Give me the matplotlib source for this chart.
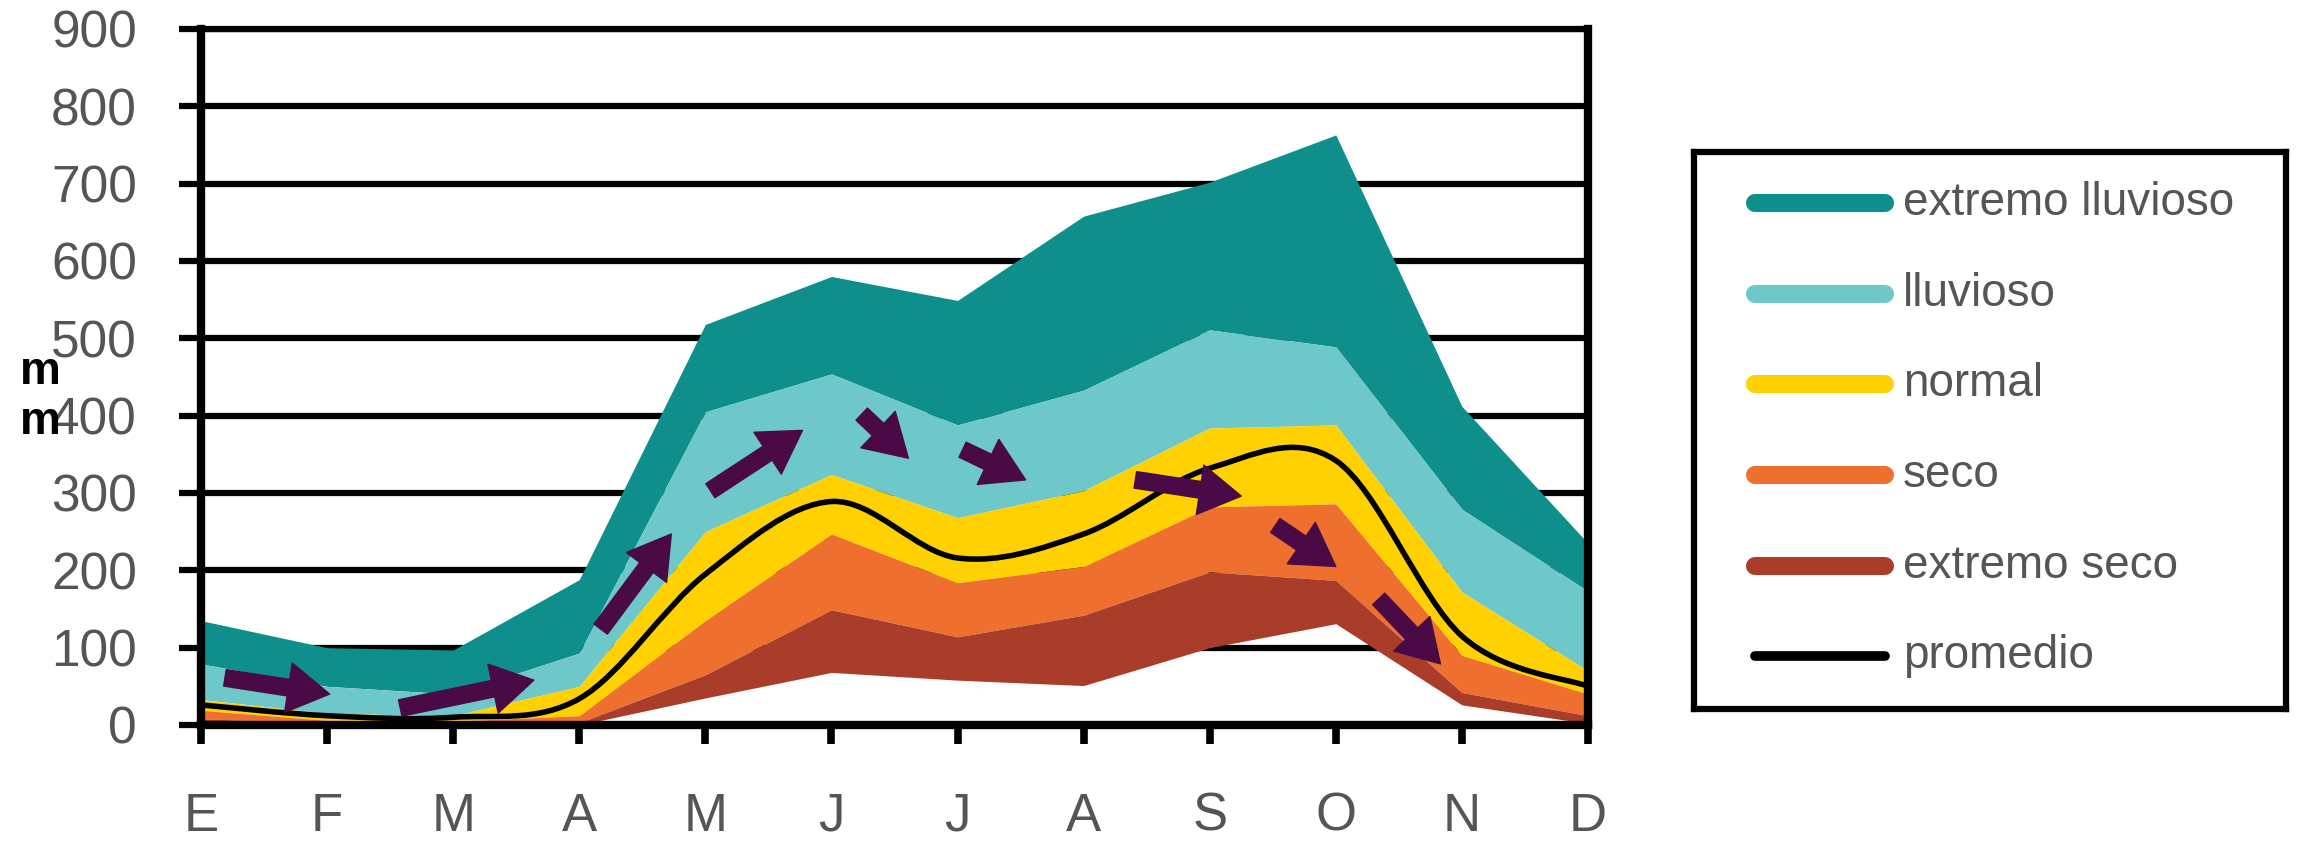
import numpy as np
import matplotlib.pyplot as plt
from matplotlib.path import Path
from matplotlib.patches import PathPatch
from matplotlib.lines import Line2D

plt.rcParams['font.family'] = ['Liberation Sans', 'DejaVu Sans']

# monthly rainfall (mm), boundaries of each band
months = ['E', 'F', 'M', 'A', 'M', 'J', 'J', 'A', 'S', 'O', 'N', 'D']
ext_seco_low = [0, 0, 0, 0, 35, 68, 58, 51, 100, 131, 26, 2]
ext_seco_top = [8, 3, 2, 3, 65, 149, 114, 142, 198, 187, 42, 12]
seco_top = [19, 6, 5, 12, 135, 247, 184, 205, 282, 286, 90, 40]
normal_top = [33, 15, 12, 50, 250, 324, 268, 303, 384, 388, 172, 70]
lluvioso_top = [79, 50, 40, 93, 405, 454, 388, 433, 511, 489, 279, 173]
ext_lluvioso_top = [135, 100, 97, 188, 518, 580, 549, 658, 702, 763, 412, 235]
promedio = [26, 12, 10, 34, 195, 289, 216, 247, 332, 342, 115, 50]

# arrows (tail -> head) in month index / mm
arrow_tail = [(0.19, 61), (1.58, 22), (3.17, 124), (4.04, 303), (5.24, 402),
              (6.04, 356), (7.41, 317), (8.52, 258), (9.34, 163)]
arrow_head = [(1.02, 40), (2.64, 58), (3.73, 247), (4.77, 381), (5.61, 345),
              (6.54, 317), (8.25, 296), (9.0, 205), (9.83, 79)]

band_labels = ['extremo lluvioso', 'lluvioso', 'normal', 'seco', 'extremo seco']
band_colors = ['#0E8F8B', '#6EC8CA', '#FFD100', '#EF6F2E', '#AA3D2A']
arrow_color = '#4A0A46'
text_gray = '#555555'

x = np.arange(len(months))

fig = plt.figure(figsize=(23.05, 8.51), dpi=100)
ax = fig.add_axes([201 / 2305, 1 - 725 / 851, 1387 / 2305, 696 / 851])

bands = [(lluvioso_top, ext_lluvioso_top), (normal_top, lluvioso_top),
         (seco_top, normal_top), (ext_seco_top, seco_top),
         (ext_seco_low, ext_seco_top)]
for (lo, hi), c in zip(bands, band_colors):
    ax.fill_between(x, lo, hi, color=c, lw=0, zorder=2)


def smooth_path(xs, ys):
    pts = np.column_stack([xs, ys]).astype(float)
    verts = [pts[0]]
    codes = [Path.MOVETO]
    n = len(pts)
    for i in range(n - 1):
        p0 = pts[i - 1] if i > 0 else pts[i]
        p1, p2 = pts[i], pts[i + 1]
        p3 = pts[i + 2] if i + 2 < n else pts[i + 1]
        verts += [p1 + (p2 - p0) / 6, p2 - (p3 - p1) / 6, p2]
        codes += [Path.CURVE4] * 3
    return Path(verts, codes)


ax.add_patch(PathPatch(smooth_path(x, promedio), fill=False, ec='black',
                       lw=4, zorder=4))

for t, h in zip(arrow_tail, arrow_head):
    ax.annotate('', xy=h, xytext=t,
                arrowprops=dict(arrowstyle='simple,head_length=1.0,head_width=1.2,tail_width=0.4',
                                color=arrow_color, mutation_scale=30,
                                shrinkA=0, shrinkB=0),
                zorder=5)

ax.set_xlim(0, 11)
ax.set_ylim(0, 900)
ax.set_yticks(range(0, 901, 100))
ax.set_xticks(x)
ax.set_xticklabels(months)
ax.yaxis.grid(True, color='black', lw=4.5, zorder=0)
ax.set_axisbelow(True)

ax.tick_params(axis='y', length=16, width=4.5, pad=30, labelsize=37,
               labelcolor=text_gray, color='black')
ax.tick_params(axis='x', length=14, width=5.5, pad=34, labelsize=38,
               labelcolor=text_gray, color='black')
for s in ['left', 'bottom', 'right']:
    ax.spines[s].set_linewidth(6)
    ax.spines[s].set_zorder(6)
ax.spines['top'].set_linewidth(4.5)

fig.text(40 / 2305, 1 - 397 / 851, 'm\nm', fontsize=33, fontweight='bold',
         ha='center', va='center', linespacing=1.2)

# legend box
lax = fig.add_axes([1694 / 2305, 1 - 709 / 851, 592 / 2305, 557 / 851])
lax.set_xlim(0, 1)
lax.set_ylim(0, 1)
lax.set_xticks([])
lax.set_yticks([])
for s in lax.spines.values():
    s.set_linewidth(4.5)

legend_labels = band_labels + ['promedio']
legend_colors = band_colors + ['black']
for i, (lab, c) in enumerate(zip(legend_labels, legend_colors)):
    yy = 0.908 - i * 0.1626
    lw = 7 if lab == 'promedio' else 13
    lax.add_line(Line2D([0.103, 0.323], [yy, yy], color=c, lw=lw,
                        solid_capstyle='round'))
    lax.text(0.353, yy, lab, fontsize=33, color=text_gray, va='center',
             ha='left')

fig.savefig('out.png', dpi=100)
